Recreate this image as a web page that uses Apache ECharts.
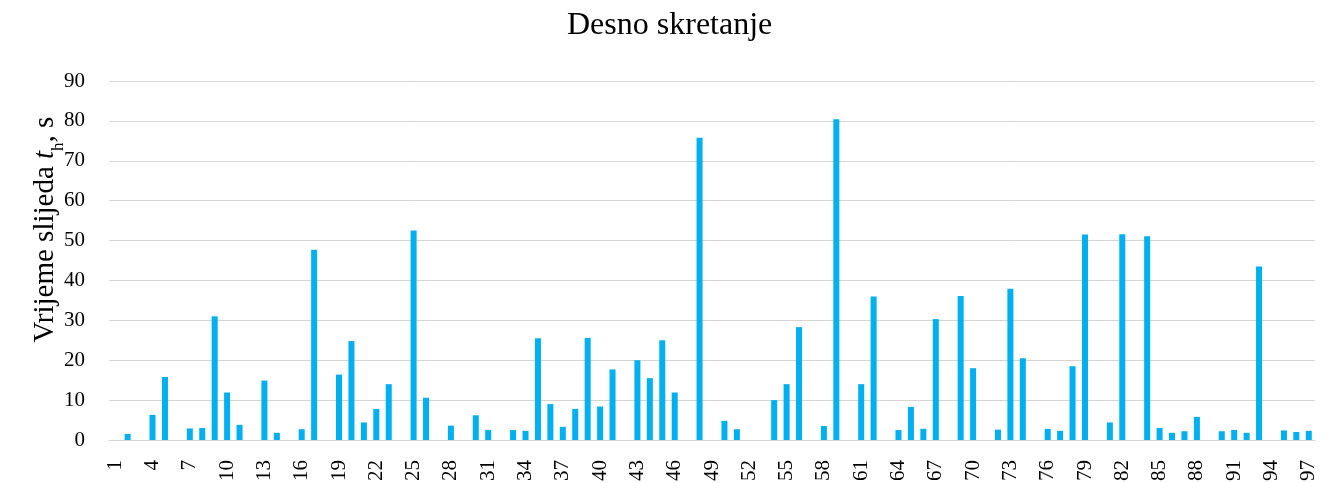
<!DOCTYPE html>
<html>
<head>
<meta charset="utf-8">
<script src="https://cdn.jsdelivr.net/npm/echarts@6/dist/echarts.min.js"></script>
<style>
html, body { margin: 0; padding: 0; background: #fff; }
#chart { width: 1342px; height: 483px; }
</style>
</head>
<body>
<div id="chart"></div>
<script>
// kategorije 1..97
var categories = Array.from({ length: 97 }, (_, i) => String(i + 1));

// vrijeme slijeda, s (0 = nema vozila)
var values = [
	0, 1.5, 0, 6.3, 15.8, 0, 2.9, 3.0, 31.0, 11.9,
	3.8, 0, 14.9, 1.8, 0, 2.7, 47.7, 0, 16.4, 24.8,
	4.4, 7.8, 14.0, 0, 52.5, 10.6, 0, 3.6, 0, 6.2,
	2.5, 0, 2.5, 2.3, 25.5, 9.0, 3.3, 7.8, 25.6, 8.4,
	17.7, 0, 20.0, 15.5, 25.0, 11.9, 0, 75.8, 0, 4.8,
	2.7, 0, 0, 10.0, 14.0, 28.3, 0, 3.5, 80.4, 0,
	14.0, 36.0, 0, 2.5, 8.3, 2.8, 30.3, 0, 36.1, 18.0,
	0, 2.6, 37.9, 20.5, 0, 2.8, 2.3, 18.5, 51.5, 0,
	4.4, 51.6, 0, 51.1, 3.0, 1.8, 2.2, 5.8, 0, 2.2,
	2.5, 1.8, 43.5, 0, 2.4, 2.0, 2.3
];

var yTicks = [0, 10, 20, 30, 40, 50, 60, 70, 80, 90];

var font = '"Liberation Serif", "DejaVu Serif", serif';

var chart = echarts.init(document.getElementById('chart'));
chart.setOption({
	animation: false,
	title: {
		text: 'Desno skretanje',
		left: 562,
		top: 5,
		textStyle: { fontFamily: font, fontSize: 32, fontWeight: 'normal', color: '#000' }
	},
	grid: { left: 109, right: 27, top: 81, bottom: 43, containLabel: false, outerBoundsMode: 'none' },
	xAxis: {
		type: 'category',
		data: categories,
		axisLine: { show: true, lineStyle: { color: '#d4d4d4', width: 1 } },
		axisTick: { show: false },
		axisLabel: {
			interval: 2,
			rotate: 90,
			margin: 20,
			fontFamily: font,
			fontSize: 21,
			color: '#000'
		}
	},
	yAxis: {
		type: 'value',
		min: yTicks[0],
		max: yTicks[yTicks.length - 1],
		interval: 10,
		name: 'Vrijeme slijeda {i|t}{s|h}, s',
		nameLocation: 'middle',
		nameGap: 49,
		nameMoveOverlap: false,
		nameTextStyle: {
			fontFamily: font,
			fontSize: 29,
			color: '#000',
			padding: [0, 0, 0, 62],
			rich: {
				i: { fontFamily: font, fontSize: 29, fontStyle: 'italic', color: '#000' },
				s: { fontFamily: font, fontSize: 17, color: '#000', verticalAlign: 'bottom', padding: [0, 0, -7, 0] }
			}
		},
		axisLine: { show: false },
		axisTick: { show: false },
		axisLabel: { margin: 24, fontFamily: font, fontSize: 21, color: '#000' },
		splitLine: { lineStyle: { color: '#d4d4d4', width: 1 } }
	},
	series: [{
		type: 'bar',
		data: values,
		barWidth: 6,
		itemStyle: { color: '#00b0f0' }
	}]
});
</script>
</body>
</html>
